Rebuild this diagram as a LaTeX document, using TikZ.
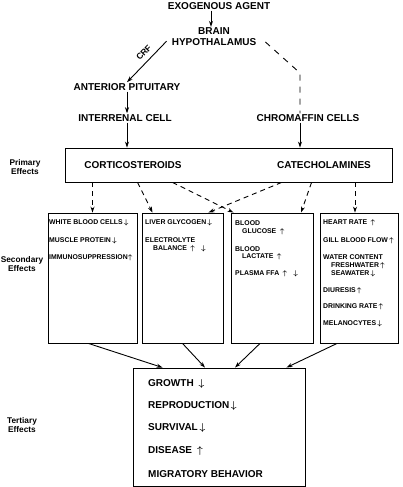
\documentclass[tikz,border=0pt]{standalone}
\usepackage{fontspec}
\setmainfont{Liberation Sans}
\usetikzlibrary{arrows.meta}

\newcommand{\incr}{{\boldmath$\uparrow$}}
\newcommand{\decr}{{\boldmath$\downarrow$}}

\begin{document}
\begin{tikzpicture}[x=1pt,y=-1pt,
    lbl/.style={font=\bfseries\fontsize{10}{11}\selectfont,inner sep=1pt},
    side/.style={font=\bfseries\fontsize{8.3}{8.8}\selectfont,align=center,inner sep=0pt},
    item/.style={font=\bfseries\fontsize{6.9}{7.5}\selectfont,anchor=west,inner sep=0pt},
    tline/.style={font=\bfseries\fontsize{10}{11}\selectfont,anchor=west,inner sep=0pt},
    effbox/.style={draw,line width=0.9pt,inner sep=0pt},
    arr/.style={line width=0.9pt,-{Stealth[length=6pt,width=4pt]}},
    darr/.style={arr,dash pattern=on 5pt off 4pt}]
  \useasboundingbox (0,0) rectangle (403,487);

  % top chain
  \node[lbl] (agent) at (219,6) {EXOGENOUS AGENT};
  \node[lbl,align=center] (hypo) at (214,37) {BRAIN\\HYPOTHALAMUS};
  \node[lbl] (pit) at (127,87) {ANTERIOR PITUITARY};
  \node[lbl] (inter) at (125,118) {INTERRENAL CELL};
  \node[lbl] (chrom) at (308,118) {CHROMAFFIN CELLS};
  \coordinate (bend) at (300,73);

  % side labels
  \node[side] (lprim) at (25,167) {Primary\\Effects};
  \node[side] (lsec) at (22,264) {Secondary\\Effects};
  \node[side] (lter) at (22,425) {Tertiary\\Effects};

  % primary box
  \node[effbox,minimum width=327pt,minimum height=34pt] (prim) at (228.5,165) {};
  \node[lbl] (cort) at (133,165) {CORTICOSTEROIDS};
  \node[lbl] (cate) at (324,165) {CATECHOLAMINES};

  % secondary boxes
  \node[effbox,minimum width=89pt,minimum height=130pt] (b1) at (92.5,278) {};
  \node[effbox,minimum width=81pt,minimum height=130pt] (b2) at (182.5,278) {};
  \node[effbox,minimum width=82pt,minimum height=130pt] (b3) at (272,278) {};
  \node[effbox,minimum width=78pt,minimum height=130pt] (b4) at (359,278) {};

  \node[item] (wbc) at (49,223) {WHITE BLOOD CELLS\,\decr};
  \node[item] (musc) at (49,241) {MUSCLE PROTEIN\,\decr};
  \node[item] (immu) at (49,258) {IMMUNOSUPPRESSION\incr};

  \node[item] (liver) at (145,223) {LIVER GLYCOGEN\,\decr};
  \node[item] (elec) at (145,240) {ELECTROLYTE};
  \node[item] (bal) at (153,249) {BALANCE\enspace\incr\,\decr};

  \node[item] (bgl) at (235,223) {BLOOD};
  \node[item] (glu) at (242,232) {GLUCOSE\enspace\incr};
  \node[item] (bla) at (235,249) {BLOOD};
  \node[item] (lac) at (242,257) {LACTATE\enspace\incr};
  \node[item] (ffa) at (235,274) {PLASMA FFA\enspace\incr\,\decr};

  \node[item] (heart) at (323,223) {HEART RATE\enspace\incr};
  \node[item] (gill) at (323,241) {GILL BLOOD FLOW\,\incr};
  \node[item] (water) at (323,257) {WATER CONTENT};
  \node[item] (fresh) at (331,266) {FRESHWATER\,\incr};
  \node[item] (sea) at (331,274) {SEAWATER\,\decr};
  \node[item] (diur) at (323,291) {DIURESIS\,\incr};
  \node[item] (drink) at (323,307) {DRINKING RATE\,\incr};
  \node[item] (mela) at (323,324) {MELANOCYTES\,\decr};

  % tertiary box
  \node[effbox,minimum width=172pt,minimum height=118pt] (tert) at (219,427) {};
  \node[tline] (grow) at (148,384) {GROWTH\enspace\decr};
  \node[tline] (repr) at (148,406) {REPRODUCTION\,\decr};
  \node[tline] (surv) at (148,428) {SURVIVAL\,\decr};
  \node[tline] (dise) at (148,451) {DISEASE\enspace\incr};
  \node[tline] (migr) at (148,474) {MIGRATORY BEHAVIOR};

  % connectors
  \draw[arr] ([xshift=-8pt]agent.south) -- ([xshift=-3pt]hypo.north);
  \draw[arr] ([shift={(-4,-6)}]hypo.south west) -- node[pos=0.42,sloped,above=4pt,lbl,font=\bfseries\fontsize{8.5}{9}\selectfont] (crf) {CRF} (pit.north);
  \draw[line width=0.9pt,dash pattern=on 6pt off 6pt] ([shift={(8,5)}]hypo.east) -- (bend) -- (bend |- chrom.north);
  \draw[arr] (pit.south) -- (pit.south |- inter.north);
  \draw[arr] (inter.south -| pit.south) -- (prim.north -| pit.south);
  \draw[arr] (chrom.south -| bend) -- (prim.north -| bend);

  \draw[darr] (prim.south -| b1.north) -- (b1.north);
  \draw[darr] ([xshift=73pt]prim.south west) -- ([xshift=-30pt]b2.north);
  \draw[darr] ([xshift=108pt]prim.south west) -- ([xshift=3pt]b3.north west);
  \draw[darr] ([xshift=217pt]prim.south west) -- ([xshift=-15pt]b2.north east);
  \draw[darr] ([xshift=247pt]prim.south west) -- ([xshift=29pt]b3.north);
  \draw[darr] ([xshift=-4pt]prim.south -| b4.north) -- ([xshift=-4pt]b4.north);

  \draw[arr] ([xshift=-4pt]b1.south) -- ([xshift=30pt]tert.north west);
  \draw[arr] (b2.south) -- ([xshift=-14pt]tert.north);
  \draw[arr] ([xshift=-12pt]b3.south) -- ([xshift=16pt]tert.north);
  \draw[arr] ([xshift=-22pt]b4.south) -- ([xshift=-19pt]tert.north east);
\end{tikzpicture}
\end{document}
